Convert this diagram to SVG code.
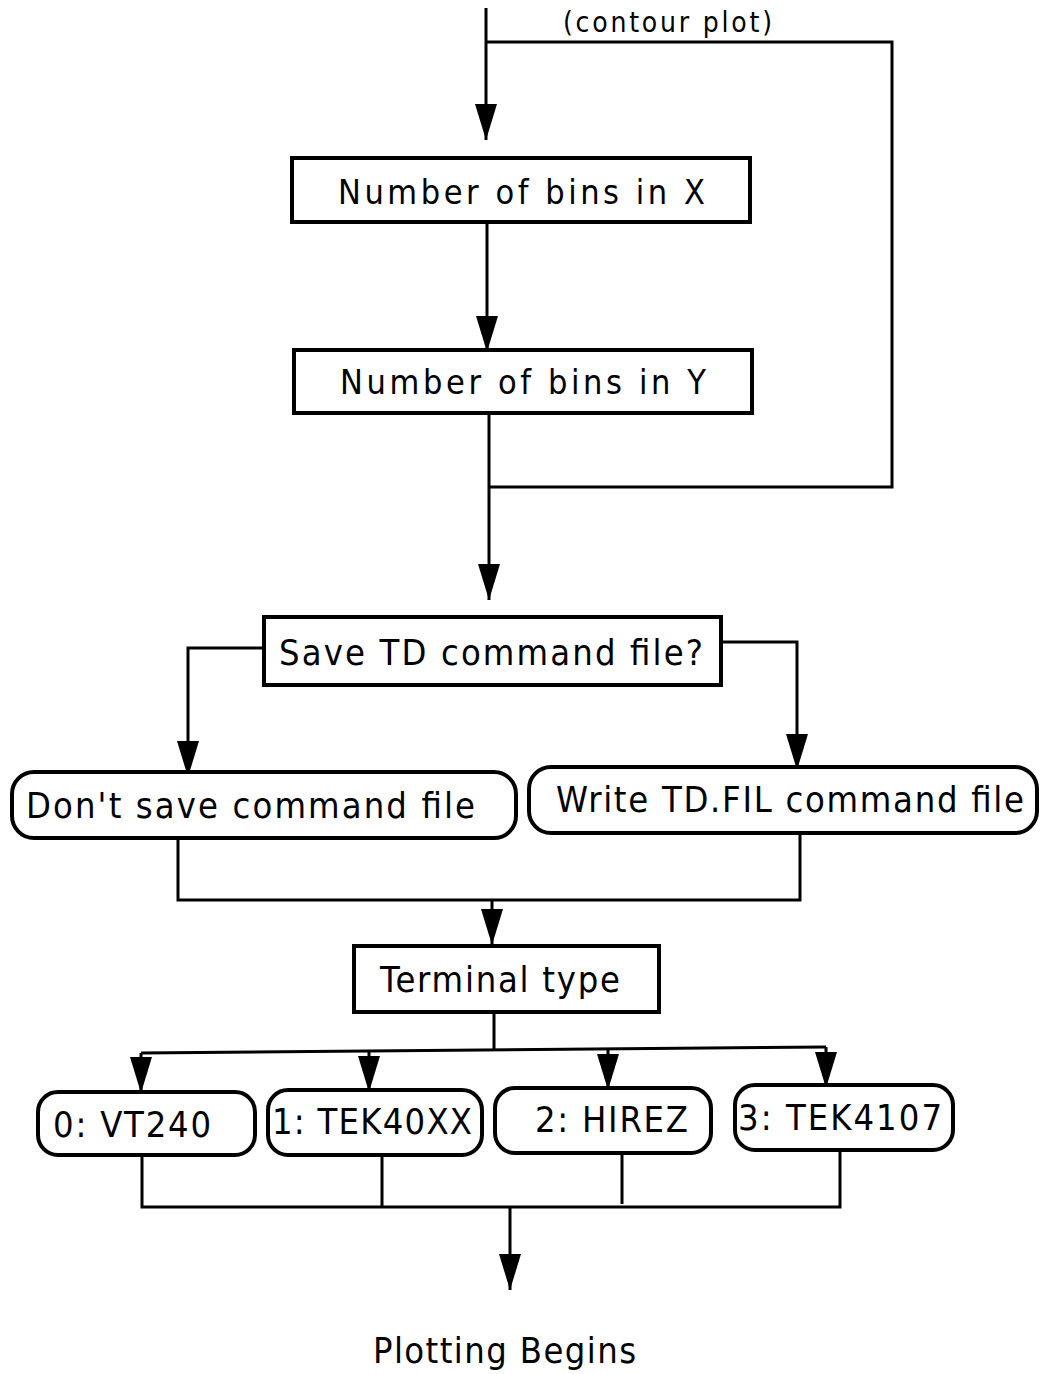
<svg xmlns="http://www.w3.org/2000/svg" width="1040" height="1374" viewBox="0 0 1040 1374">
<defs>
<marker id="ah" viewBox="0 0 36 22" refX="36" refY="11" markerWidth="36" markerHeight="22" markerUnits="userSpaceOnUse" orient="auto">
<path d="M0,0 L36,11 L0,22 z" fill="#000"/>
</marker>
</defs>
<style>
text{font-family:"DejaVu Sans Condensed","DejaVu Sans","Liberation Sans",sans-serif;fill:#000}
.t{font-size:34px}
.u{font-size:36px}
.b{fill:#fff;stroke:#000;stroke-width:4}
.c{fill:none;stroke:#000;stroke-width:3}
.a{marker-end:url(#ah)}
</style>
<rect width="1040" height="1374" fill="#fff"/>
<g id="connectors">
<path class="c a" d="M486,8 V140"/>
<path class="c" d="M486,42 H892 V487 H490"/>
<path class="c a" d="M487,222 V352"/>
<path class="c a" d="M489,413 V600"/>
<path class="c a" d="M264,648 H188 V777"/>
<path class="c a" d="M721,642 H797 V770"/>
<path class="c" d="M178,838 V900 H800 V833"/>
<path class="c a" d="M492,900 V945"/>
<path class="c" d="M494,1012 V1050"/>
<path class="c" d="M141,1053 L826,1047"/>
<path class="c a" d="M141,1053 V1093"/>
<path class="c a" d="M369,1051 V1092"/>
<path class="c a" d="M608,1049 V1090"/>
<path class="c a" d="M826,1047 V1088"/>
<path class="c" d="M142,1155 V1207 H840 V1150"/>
<path class="c" d="M382,1155 V1206"/>
<path class="c" d="M622,1153 V1204"/>
<path class="c a" d="M510,1206 V1290"/>
</g>
<g id="label-contour"><text x="563" y="32" font-size="28" textLength="209" lengthAdjust="spacing">(contour plot)</text></g>
<g id="n-binsx"><rect class="b" x="292" y="158" width="458" height="64"/><text class="t" x="338" y="204" textLength="367" lengthAdjust="spacing">Number of bins in X</text></g>
<g id="n-binsy"><rect class="b" x="294" y="350" width="458" height="63"/><text class="t" x="340" y="394" textLength="366" lengthAdjust="spacing">Number of bins in Y</text></g>
<g id="n-save"><rect class="b" x="264" y="617" width="457" height="68"/><text class="u" x="279" y="665" textLength="424" lengthAdjust="spacing">Save TD command file?</text></g>
<g id="n-dont"><rect class="b" x="12" y="772" width="504" height="66" rx="22"/><text class="u" x="26" y="818" textLength="449" lengthAdjust="spacing">Don't save command file</text></g>
<g id="n-write"><rect class="b" x="529" y="767" width="508" height="66" rx="22"/><text class="u" x="556" y="812" textLength="468" lengthAdjust="spacing">Write TD.FIL command file</text></g>
<g id="n-term"><rect class="b" x="354" y="946" width="305" height="66"/><text class="u" x="380" y="992" textLength="240" lengthAdjust="spacing">Terminal type</text></g>
<g id="n-vt240"><rect class="b" x="38" y="1092" width="217" height="63" rx="20"/><text class="u" x="53" y="1137" textLength="158" lengthAdjust="spacing">0: VT240</text></g>
<g id="n-tek40xx"><rect class="b" x="268" y="1090" width="214" height="65" rx="20"/><text class="u" x="272" y="1134" textLength="200" lengthAdjust="spacing">1: TEK40XX</text></g>
<g id="n-hirez"><rect class="b" x="495" y="1088" width="216" height="65" rx="20"/><text class="u" x="535" y="1132" textLength="153" lengthAdjust="spacing">2: HIREZ</text></g>
<g id="n-tek4107"><rect class="b" x="735" y="1085" width="218" height="65" rx="20"/><text class="u" x="738" y="1130" textLength="204" lengthAdjust="spacing">3: TEK4107</text></g>
<g id="label-plot"><text class="u" x="373" y="1363" textLength="263" lengthAdjust="spacing">Plotting Begins</text></g>
</svg>
